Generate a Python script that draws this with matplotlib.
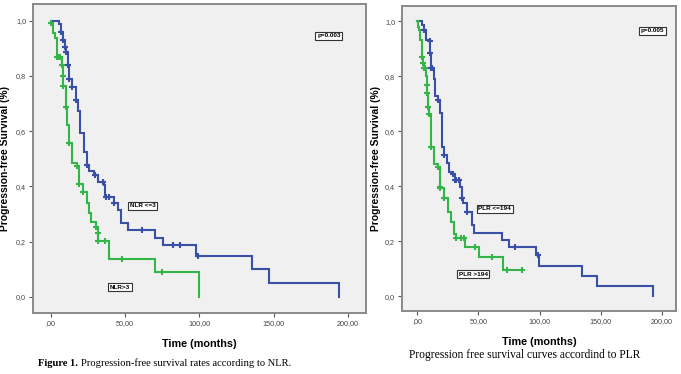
import numpy as np
import matplotlib
matplotlib.use("Agg")
import matplotlib.pyplot as plt

# ---- data ----
# left panel: NLR
nlr_lo_t = [0, 5.8, 7.0, 8.2, 9.5, 10.5, 11.4, 12.5, 14.1, 17.0, 18.5, 19.7, 22.4, 24.2, 26.0, 29.0,
            31.8, 35.6, 36.5, 42.5, 45.5, 47.0, 52.2, 70.1, 75.7, 97.7, 135.2, 147.0, 194.0]
nlr_lo_s = [1.0, 0.987, 0.96, 0.93, 0.906, 0.887, 0.84, 0.79, 0.76, 0.713, 0.673, 0.592, 0.526, 0.478,
            0.454, 0.441, 0.417, 0.405, 0.363, 0.339, 0.315, 0.267, 0.242, 0.212, 0.188, 0.148, 0.10, 0.05, 0.0]
nlr_lo_cens = [7.0, 8.2, 9.5, 10.5, 11.4, 12.5, 14.1, 17.0, 24.2, 29.8, 35.4, 37.5, 39.0, 42.6,
               61.2, 81.9, 86.9, 99.3]

nlr_hi_t = [0, 0.5, 1.8, 2.9, 4.0, 7.4, 8.0, 8.5, 10.0, 11.2, 12.5, 14.1, 17.5, 19.2, 21.5, 24.6,
            26.0, 26.9, 30.5, 31.6, 32.0, 39.4, 70.1, 100.0]
nlr_hi_s = [1.0, 0.99, 0.954, 0.936, 0.87, 0.84, 0.80, 0.764, 0.687, 0.623, 0.558, 0.484, 0.474, 0.41,
            0.378, 0.341, 0.303, 0.272, 0.254, 0.23, 0.204, 0.136, 0.092, 0.0]
nlr_hi_cens = [0.5, 4.0, 5.0, 6.5, 7.4, 8.0, 8.5, 10.0, 12.5, 17.5, 19.2, 21.5, 30.5, 31.6, 32.0,
               36.5, 47.7, 74.6]

# right panel: PLR
plr_lo_t = [0, 4.1, 6.0, 7.6, 10.3, 10.8, 11.7, 13.5, 14.9, 16.8, 18.4, 20.4, 21.7, 24.4, 26.3, 29.3,
            31.2, 35.3, 36.7, 37.5, 41.2, 44.8, 46.7, 69.3, 74.7, 97.0, 99.7, 134.5, 146.7, 192.8]
plr_lo_s = [1.0, 0.986, 0.968, 0.932, 0.93, 0.884, 0.83, 0.79, 0.73, 0.713, 0.665, 0.543, 0.513, 0.483,
            0.452, 0.446, 0.422, 0.398, 0.356, 0.34, 0.307, 0.258, 0.23, 0.204, 0.18, 0.149, 0.11,
            0.074, 0.036, 0.0]
plr_lo_cens = [6.0, 10.3, 10.8, 11.7, 12.2, 16.8, 21.7, 29.3, 31.2, 32.0, 33.9, 36.7, 41.2, 80.1, 99.1]

plr_hi_t = [0, 0.5, 1.4, 2.7, 4.1, 5.0, 6.0, 7.5, 7.8, 8.1, 8.7, 9.5, 11.7, 13.5, 16.8, 18.4, 19.0,
            21.7, 25.0, 28.0, 30.4, 32.0, 39.4, 51.0, 70.1, 85.6]
plr_hi_s = [1.0, 0.98, 0.968, 0.932, 0.871, 0.85, 0.83, 0.80, 0.77, 0.738, 0.689, 0.663, 0.543, 0.48,
            0.47, 0.398, 0.393, 0.359, 0.307, 0.27, 0.228, 0.21, 0.18, 0.143, 0.097, 0.097]
plr_hi_cens = [4.1, 5.0, 6.0, 6.8, 7.8, 8.1, 8.7, 9.5, 11.7, 16.8, 18.4, 19.0, 21.7, 32.0, 35.9,
               38.6, 47.5, 61.1, 73.8, 85.6]

xticks = [0, 50, 100, 150, 200]
xtick_labels = [",00", "50,00", "100,00", "150,00", "200,00"]
yticks = [0.0, 0.2, 0.4, 0.6, 0.8, 1.0]
ytick_labels = ["0,0", "0,2", "0,4", "0,6", "0,8", "1,0"]

BLUE = "#3a50a6"
GREEN = "#33b548"
W, H = 681, 374
NARROW = ["Liberation Sans Narrow", "Liberation Sans", "DejaVu Sans"]

fig = plt.figure(figsize=(W / 100, H / 100), dpi=100)
fig.patch.set_facecolor("white")


def px_axes(x0, y0, x1, y1):
    return fig.add_axes([x0 / W, 1 - y1 / H, (x1 - x0) / W, (y1 - y0) / H])


def km(ax, t, s, cens, color):
    ax.step(t, s, where="post", color=color, lw=1.5, solid_joinstyle="miter")
    t = np.array(t)
    s = np.array(s)
    idx = np.searchsorted(t, cens, side="right") - 1
    ax.plot(cens, s[idx], ls="none", marker="+", ms=5, mew=1.5, color=color)


def boxlabel(ax, x, y, txt, size=4.6):
    ax.text(x, y, txt, fontsize=size, fontweight="bold", ha="center", va="center", family=NARROW,
            bbox=dict(boxstyle="square,pad=0.25", fc="white", ec="#333333", lw=0.8))


def style(ax, xlim, ylim, ylab_x):
    ax.set_facecolor("#f0f0f0")
    ax.set_xlim(*xlim)
    ax.set_ylim(*ylim)
    for sp in ax.spines.values():
        sp.set_color("#8a8a8a")
        sp.set_linewidth(1.4)
    ax.set_xticks(xticks)
    ax.set_xticklabels(xtick_labels)
    ax.set_yticks(yticks)
    ax.set_yticklabels(ytick_labels)
    ax.tick_params(length=3, width=0.8, color="#555555", labelsize=5.2, labelcolor="#444444", pad=2)
    for lab in ax.get_xticklabels() + ax.get_yticklabels():
        lab.set_family(NARROW)
    ax.set_xlabel("Time (months)", fontsize=7.8, fontweight="bold", labelpad=9, family=NARROW)
    ax.set_ylabel("Progression-free Survival (%)", fontsize=7.4, fontweight="bold",
                  family=["Liberation Sans", "DejaVu Sans"])
    ax.yaxis.set_label_coords(ylab_x, 0.5)


# left panel
ax1 = px_axes(33, 4, 366, 313)
style(ax1, (-11.9, 212.0), (-0.058, 1.06), -0.07)
km(ax1, nlr_lo_t, nlr_lo_s, nlr_lo_cens, BLUE)
km(ax1, nlr_hi_t, nlr_hi_s, nlr_hi_cens, GREEN)
boxlabel(ax1, 187, 0.945, "p=0.003")
boxlabel(ax1, 62, 0.33, "NLR <=3")
boxlabel(ax1, 46.6, 0.036, "NLR>3")

# right panel
ax2 = px_axes(402, 6, 676, 311)
style(ax2, (-12.2, 211.3), (-0.054, 1.056), -0.077)
km(ax2, plr_lo_t, plr_lo_s, plr_lo_cens, BLUE)
km(ax2, plr_hi_t, plr_hi_s, plr_hi_cens, GREEN)
boxlabel(ax2, 192.3, 0.966, "p=0.005")
boxlabel(ax2, 63.4, 0.318, "PLR <=194")
boxlabel(ax2, 45.9, 0.08, "PLR >194")

# captions
serif = ["Liberation Serif", "DejaVu Serif"]
t1 = fig.text(38 / W, 1 - 363 / H, "Figure 1.", fontsize=7.6, fontweight="bold", family=serif,
              va="center", ha="left")
fig.canvas.draw()
bb = t1.get_window_extent(fig.canvas.get_renderer())
fig.text(bb.x1 / W + 3 / W, 1 - 363 / H, "Progression-free survival rates according to NLR.",
         fontsize=7.6, family=serif, va="center", ha="left")
fig.text(525 / W, 1 - 355 / H, "Progression free survival curves accordind to PLR",
         fontsize=8.3, family=serif, va="center", ha="center")

fig.savefig("out.png", dpi=100)
